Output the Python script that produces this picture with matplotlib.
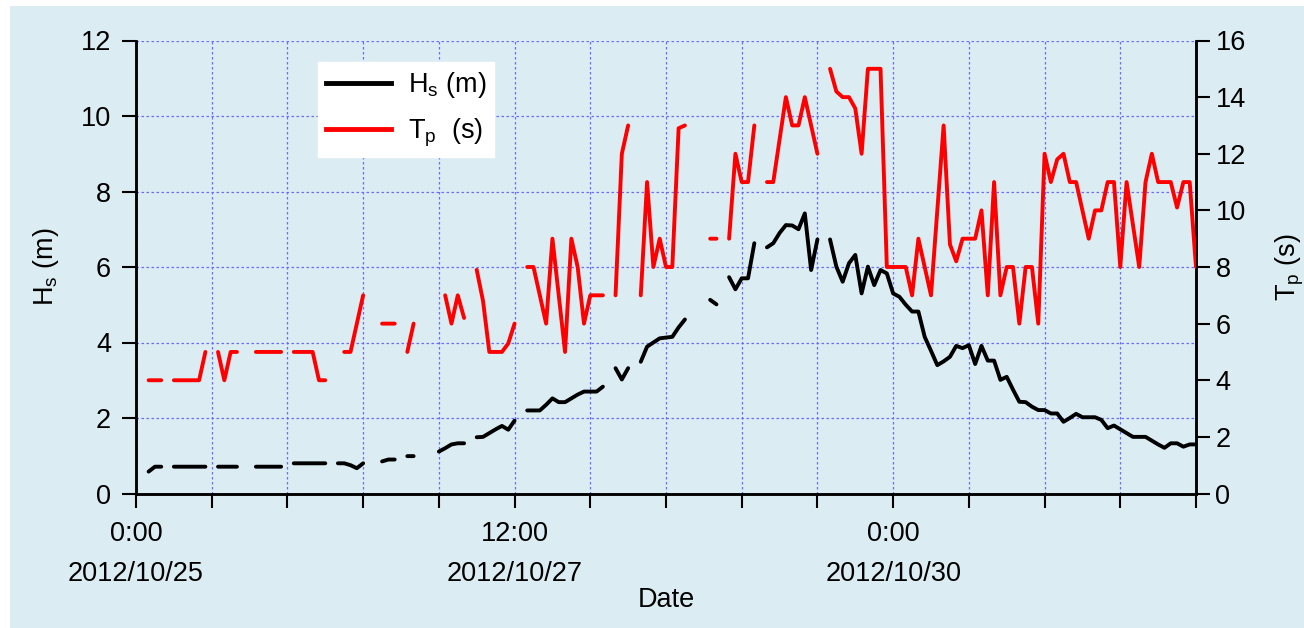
import numpy as np
import matplotlib
matplotlib.use("Agg")
import matplotlib.pyplot as plt
from matplotlib.lines import Line2D
from matplotlib.patches import Rectangle

nan = np.nan

# hours since 2012/10/25 0:00
hours = np.arange(0, 169)

hs = [nan, nan, 0.58, 0.71, 0.71, nan, 0.71, 0.71, 0.71, 0.71,
      0.71, 0.71, nan, 0.71, 0.71, 0.71, 0.71, nan, nan, 0.71,
      0.71, 0.71, 0.71, 0.71, nan, 0.8, 0.8, 0.8, 0.8, 0.8,
      0.8, nan, 0.8, 0.8, 0.75, 0.67, 0.8, nan, nan, 0.85,
      0.9, 0.9, nan, 0.99, 0.99, nan, nan, nan, 1.11, 1.2,
      1.3, 1.33, 1.33, nan, 1.49, 1.5, 1.6, 1.7, 1.79, 1.69,
      1.93, nan, 2.2, 2.2, 2.2, 2.35, 2.52, 2.42, 2.42, 2.52,
      2.62, 2.7, 2.7, 2.7, 2.83, nan, 3.32, 3.02, 3.32, nan,
      3.49, 3.89, 4.0, 4.11, 4.13, 4.15, 4.4, 4.61, nan, nan,
      nan, 5.13, 5.01, nan, 5.73, 5.41, 5.7, 5.7, 6.63, nan,
      6.52, 6.63, 6.9, 7.11, 7.1, 7.0, 7.42, 5.92, 6.73, nan,
      6.73, 6.01, 5.61, 6.10, 6.32, 5.30, 6.01, 5.52, 5.92, 5.83,
      5.30, 5.21, 5.0, 4.82, 4.82, 4.15, 3.78, 3.40, 3.5, 3.62,
      3.91, 3.85, 3.93, 3.43, 3.91, 3.52, 3.52, 3.01, 3.09, 2.75,
      2.43, 2.42, 2.3, 2.21, 2.21, 2.12, 2.12, 1.90, 2.0, 2.11,
      2.02, 2.02, 2.02, 1.95, 1.73, 1.80, 1.70, 1.60, 1.50, 1.50,
      1.50, 1.40, 1.30, 1.21, 1.33, 1.33, 1.24, 1.30, 1.30]

tp = [nan, nan, 4, 4, 4, nan, 4, 4, 4, 4,
      4, 5, nan, 5, 4, 5, 5, nan, nan, 5,
      5, 5, 5, 5, nan, 5, 5, 5, 5, 4,
      4, nan, nan, 5, 5, 6, 7, nan, nan, 6,
      6, 6, nan, 5, 6, nan, nan, nan, nan, 7,
      6, 7, 6.2, nan, 7.9, 6.8, 5, 5, 5, 5.3,
      6, nan, 8, 8, 7, 6, 9, 7, 5, 9,
      8, 6, 7, 7, 7, nan, 7, 12, 13, nan,
      7, 11, 8, 9, 8, 8, 12.9, 13, nan, nan,
      nan, 9, 9, nan, 9, 12, 11, 11, 13, nan,
      11, 11, 12.5, 14, 13, 13, 14, 13, 12, nan,
      15, 14.2, 14, 14, 13.6, 12, 15, 15, 15, 8,
      8, 8, 8, 7, 9, 8, 7, 10, 13, 8.8,
      8.2, 9, 9, 9, 10, 7, 11, 7, 8, 8,
      6, 8, 8, 6, 12, 11, 11.8, 12, 11, 11,
      10, 9, 10, 10, 11, 11, 8, 11, 9.5, 8,
      11, 12, 11, 11, 11, 10.1, 11, 11, 8]

xtick_hours = list(range(0, 169, 12))
xtick_labels = {0: "0:00\n2012/10/25", 60: "12:00\n2012/10/27", 120: "0:00\n2012/10/30"}

BG = "#dbedf3"
GRID = "#6b6bff"

plt.rcParams["font.family"] = ["Liberation Sans", "DejaVu Sans"]
plt.rcParams["mathtext.default"] = "regular"
FS = 19.5

fig = plt.figure(figsize=(13.04, 6.28), dpi=100, facecolor="white")
fig.patches.append(Rectangle((10 / 1304, 0), 1 - 10 / 1304, 1 - 6 / 628,
                             transform=fig.transFigure, facecolor=BG,
                             edgecolor="none", zorder=-10))

ax = fig.add_axes([136 / 1304, 1 - 493.5 / 628, 1060 / 1304, 453 / 628])
ax.set_facecolor(BG)
ax2 = ax.twinx()

ax.plot(hours, hs, color="black", lw=2.8, solid_capstyle="round", zorder=3)
ax2.plot(hours, tp, color="#ff0000", lw=2.8, solid_capstyle="round", zorder=3)

ax.set_xlim(0, 168)
ax.set_ylim(0, 12)
ax2.set_ylim(0, 16)

ax.set_xticks(xtick_hours)
ax.set_xticklabels([xtick_labels.get(h, "") for h in xtick_hours],
                   fontsize=FS, linespacing=1.7)
ax.set_yticks(range(0, 13, 2))
ax2.set_yticks(range(0, 17, 2))
ax.tick_params(axis="y", direction="out", length=10, width=1.5,
               labelsize=FS, pad=8)
ax.tick_params(axis="x", direction="out", length=10, width=1.5,
               labelsize=FS, pad=10)
ax2.tick_params(axis="y", direction="out", length=10, width=1.5,
                labelsize=FS, pad=4)

ax.grid(True, color=GRID, linestyle=(0, (2, 2)), lw=0.9)
ax.set_axisbelow(True)

for a in (ax, ax2):
    a.spines["top"].set_visible(False)
    for s in ("left", "right", "bottom"):
        a.spines[s].set_linewidth(1.8)

ax.set_ylabel("H$_s$ (m)", fontsize=FS, labelpad=14)
ax2.set_ylabel("T$_p$ (s)", fontsize=FS, labelpad=20)
ax.set_xlabel("Date", fontsize=FS, labelpad=0)

handles = [Line2D([], [], color="black", lw=3.5),
           Line2D([], [], color="#ff0000", lw=3.5)]
leg = ax2.legend(handles, ["H$_s$ (m)", "T$_p$  (s)"], loc="upper left",
                 bbox_to_anchor=(0.172, 0.952), fontsize=FS, frameon=True,
                 fancybox=False, handlelength=2.4, handletextpad=0.6,
                 borderpad=0.3, labelspacing=0.6, borderaxespad=0)
leg.get_frame().set_facecolor("white")
leg.get_frame().set_edgecolor("white")
leg.get_frame().set_alpha(1)

fig.savefig("out.png", dpi=100, facecolor=fig.get_facecolor())
